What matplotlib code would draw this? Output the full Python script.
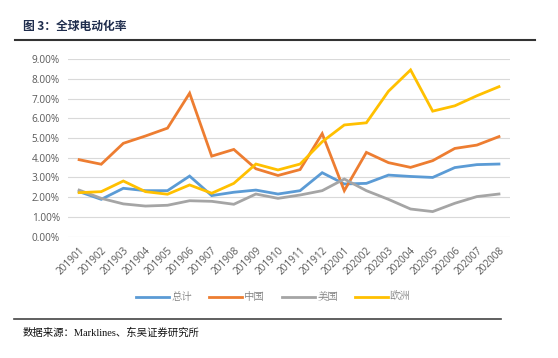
import matplotlib
matplotlib.use("Agg")
import matplotlib.pyplot as plt
from matplotlib.lines import Line2D
from matplotlib.ticker import FuncFormatter

months = ["201901", "201902", "201903", "201904", "201905", "201906", "201907",
          "201908", "201909", "201910", "201911", "201912", "202001", "202002",
          "202003", "202004", "202005", "202006", "202007", "202008"]
total = [2.28, 1.89, 2.45, 2.33, 2.33, 3.07, 2.08, 2.25, 2.36, 2.16, 2.33, 3.24,
         2.67, 2.70, 3.12, 3.05, 3.00, 3.50, 3.65, 3.68]
china = [3.90, 3.67, 4.73, 5.10, 5.50, 7.27, 4.08, 4.42, 3.44, 3.10, 3.40, 5.22,
         2.33, 4.27, 3.75, 3.51, 3.85, 4.47, 4.64, 5.07]
usa = [2.36, 1.94, 1.66, 1.55, 1.59, 1.82, 1.79, 1.64, 2.16, 1.94, 2.11, 2.33,
       2.92, 2.33, 1.89, 1.40, 1.27, 1.69, 2.03, 2.16]
europe = [2.23, 2.28, 2.82, 2.28, 2.15, 2.62, 2.20, 2.70, 3.68, 3.38, 3.68, 4.81,
          5.66, 5.77, 7.37, 8.45, 6.36, 6.63, 7.14, 7.60]
series_names = ["总计", "中国", "美国", "欧洲"]
colors = ["#5b9bd5", "#ed7d31", "#a5a5a5", "#ffc000"]

plt.rcParams['font.family'] = ['Noto Sans CJK SC', 'DejaVu Sans']

fig = plt.figure(figsize=(5.58, 3.58), dpi=100)
ax = fig.add_axes([0.122, 0.339, 0.792, 0.496])

x = list(range(len(months)))
for vals, c in zip([total, china, usa, europe], colors):
    ax.plot(x, vals, color=c, lw=2.0, solid_joinstyle='miter', zorder=3)

ax.set_xlim(-0.5, len(months) - 0.5)
ax.set_ylim(0, 9)
ax.set_yticks(range(0, 10))
ax.yaxis.set_major_formatter(FuncFormatter(lambda v, p: f"{v:.2f}%"))
ax.grid(axis='y', color='#d9d9d9', lw=0.8)
ax.set_axisbelow(True)
for s in ax.spines.values():
    s.set_visible(False)
ax.tick_params(axis='both', length=0, colors='#595959', labelsize=7.2)
ax.set_xticks(x)
ax.set_xticklabels(months, rotation=45, ha='right', rotation_mode='anchor',
                   family=['Open Sans', 'DejaVu Sans'])
for lab in ax.get_yticklabels():
    lab.set_family(['Open Sans', 'DejaVu Sans'])
ax.tick_params(axis='x', pad=6)
ax.tick_params(axis='y', pad=6)

handles = [Line2D([0], [0], color=c, lw=2.0) for c in colors]
leg = fig.legend(handles, series_names, loc='center', bbox_to_anchor=(0.49, 0.17),
                 ncol=4, frameon=False, fontsize=7.5, handlelength=3.2,
                 handletextpad=0.2, columnspacing=1.6)
for t in leg.get_texts():
    t.set_color('#7f7f7f')
    t.set_family(['Noto Serif CJK SC', 'Noto Sans CJK SC', 'DejaVu Sans'])

# title and rules
fig.text(0.041, 0.925, "图 3：全球电动化率", fontsize=8.5, fontweight='bold',
         color='#1f2d4d', va='center', ha='left')
fig.add_artist(Line2D([0.027, 0.958], [0.888, 0.888], color='#333333', lw=1.5,
                      transform=fig.transFigure))
fig.add_artist(Line2D([0.025, 0.897], [0.109, 0.109], color='#444444', lw=1.2,
                      transform=fig.transFigure))
fig.text(0.040, 0.070, "数据来源：Marklines、东吴证券研究所", fontsize=7.5,
         color='#111111', va='center', ha='left',
         family=['Liberation Serif', 'Noto Sans CJK SC'])

fig.savefig("out.png", dpi=100)
